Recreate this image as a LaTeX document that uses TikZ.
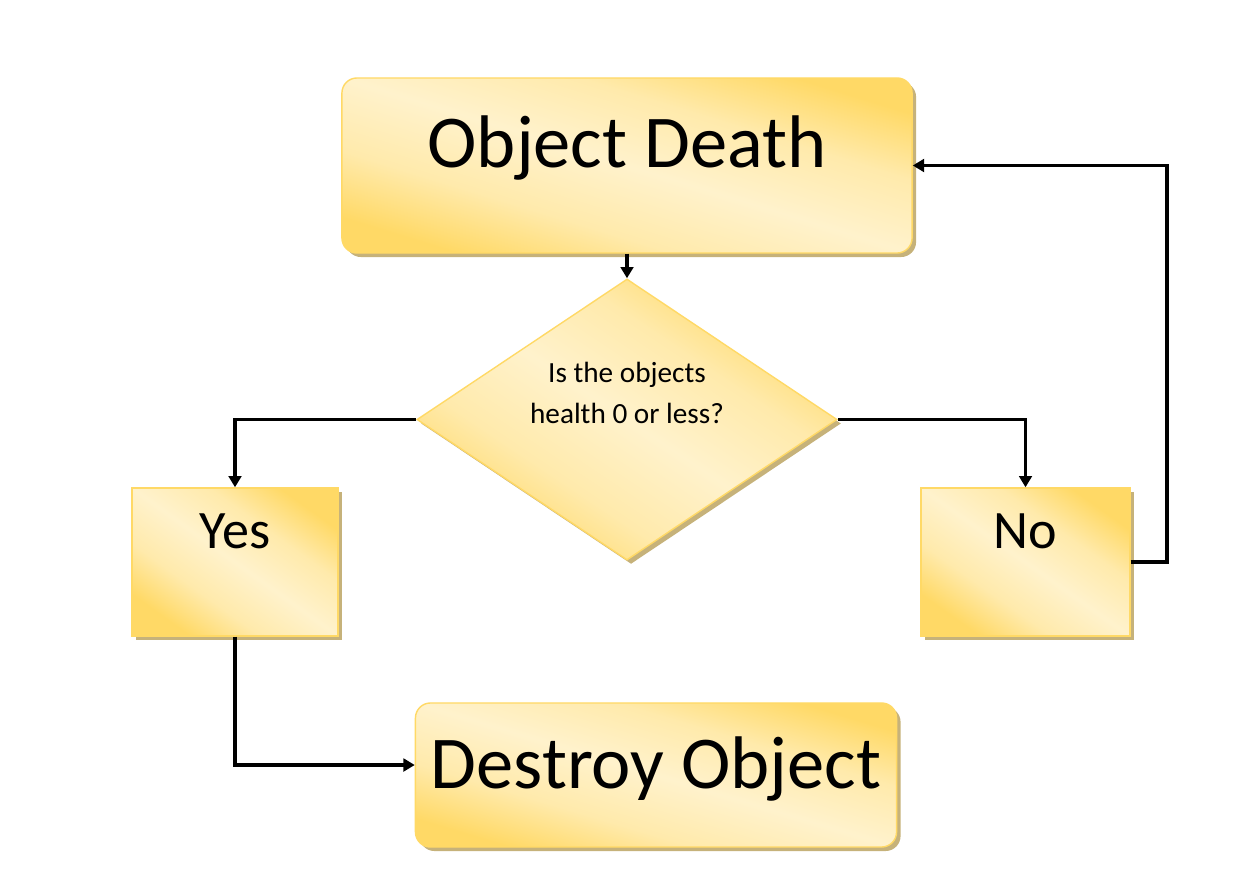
\documentclass[tikz,border=0pt]{standalone}
\usepackage{fontspec}
\setmainfont{Carlito}
\usetikzlibrary{arrows.meta,positioning,shapes.geometric,shadows}
\definecolor{FlowGold}{HTML}{FFD966}
\definecolor{FlowPale}{HTML}{FFF2CC}
\colorlet{FlowMid}{FlowPale!68!FlowGold}
\definecolor{FlowEdge}{HTML}{FFD966}
\definecolor{FlowShadow}{HTML}{C6B27A}
\pgfdeclareverticalshading{flowsheen}{100bp}{color(0bp)=(FlowGold); color(25bp)=(FlowGold); color(37bp)=(FlowMid); color(50bp)=(FlowPale); color(63bp)=(FlowMid); color(75bp)=(FlowGold); color(100bp)=(FlowGold)}

\begin{document}
\begin{tikzpicture}[x=0.025cm,y=-0.025cm]
    \tikzset{flowbox/.style={draw=FlowEdge,line width=1pt,inner sep=0pt,shade,shading=flowsheen,drop shadow={shadow xshift=0.1cm,shadow yshift=-0.1cm,fill=FlowShadow,opacity=1}}}
    \tikzset{flowarrow/.style={line width=2.8pt,-{Triangle[length=8pt,width=9pt]}}}
    \useasboundingbox (0,0) rectangle (1240,880);
    \node[flowbox,shading angle=-17.1,rounded corners=0.375cm,minimum width=14.25cm,minimum height=4.375cm,font=\fontsize{53}{58}\selectfont,text height=0.08cm,text depth=0cm] (death) at (627,165.5) {Object Death};
    \node[flowbox,diamond,shading angle=-33.8,minimum width=10.5cm,minimum height=7.025cm,align=center,font=\fontsize{20.8}{29}\selectfont,text height=0.175cm,text depth=0cm] (check) at (627,419.5) {Is the objects\\health 0 or less?};
    \node[flowbox,shading angle=-35.7,minimum width=5.15cm,minimum height=3.7cm,font=\fontsize{38.5}{44}\selectfont,text height=0cm,text depth=0.7cm] (yes) at (235,562) {Yes};
    \node[flowbox,shading angle=-35.3,minimum width=5.225cm,minimum height=3.7cm,font=\fontsize{38.5}{44}\selectfont,text height=0cm,text depth=0.7cm] (no) at (1025.5,562) {No};
    \node[flowbox,shading angle=-16.7,rounded corners=0.375cm,minimum width=12.025cm,minimum height=3.6cm,font=\fontsize{53}{58}\selectfont,text height=0.65cm,text depth=0cm] (destroy) at (656,775) {Destroy Object};
    \draw[flowarrow] (death.south) -- (check.north);
    \draw[flowarrow] (check.west) -| (yes.north);
    \draw[flowarrow] (check.east) -| (no.north);
    \draw[flowarrow] (no.east) -- ++(36,0) |- (death.east);
    \draw[flowarrow] (yes.south) |- ([yshift=0.25cm]destroy.west);
  \end{tikzpicture}
\end{document}
